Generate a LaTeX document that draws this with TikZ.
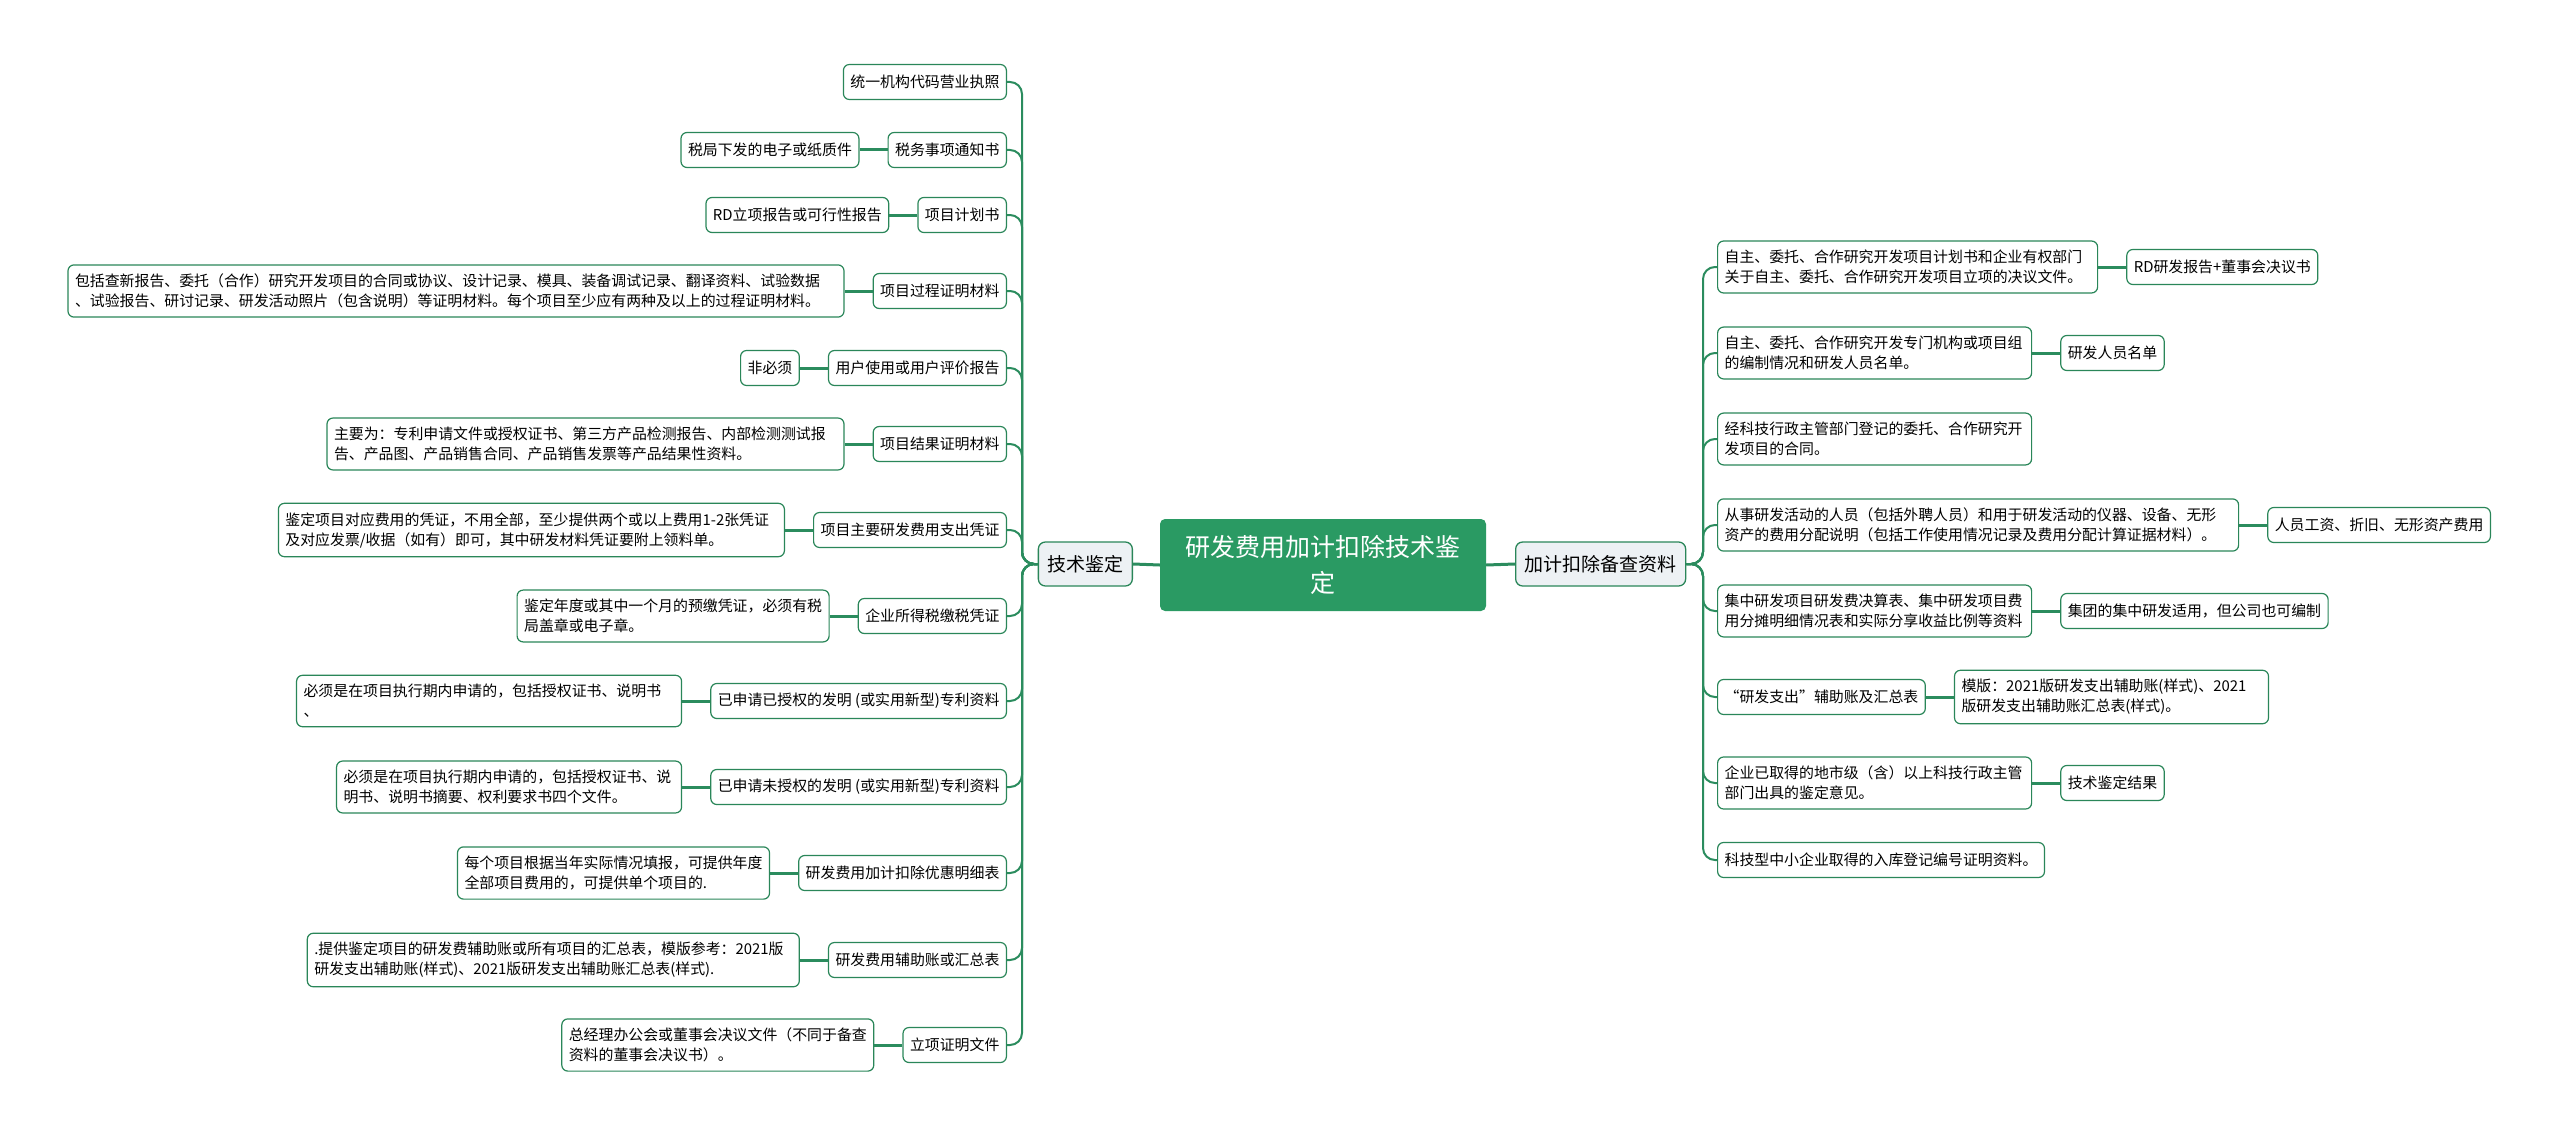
\documentclass[tikz,border=0pt]{standalone}
\usepackage{fontspec}
\setmainfont{Noto Sans CJK SC}
\usetikzlibrary{positioning}

\definecolor{edgegreen}{HTML}{2A8659}
\definecolor{linkgreen}{HTML}{2B8C5E}
\definecolor{rootgreen}{HTML}{2A9A63}
\definecolor{topicgrey}{HTML}{EDF1F4}

\begin{document}
\begin{tikzpicture}[
    x=1pt, y=-1pt,
    node distance=28pt,
    root/.style={
        rectangle,
        fill=rootgreen,
        rounded corners=5pt,
        text=white,
        minimum width=326pt,
        minimum height=92pt,
        inner sep=0pt,
        align=center,
        font=\fontsize{25}{36}\selectfont
    },
    topic/.style={
        rectangle,
        draw=edgegreen,
        fill=topicgrey,
        rounded corners=7pt,
        line width=1.3pt,
        minimum height=44pt,
        inner xsep=9pt,
        font=\fontsize{19}{23}\selectfont
    },
    leaf/.style={
        rectangle,
        draw=edgegreen,
        fill=white,
        rounded corners=6pt,
        line width=1.2pt,
        minimum height=35pt,
        inner xsep=7pt,
        inner ysep=9pt,
        align=left,
        font=\fontsize{14.9}{20}\selectfont
    },
    wrapped/.style={
        leaf,
        text width=#1
    },
    trunk/.style={
        draw=linkgreen,
        line width=3pt
    },
    branch/.style={
        draw=linkgreen,
        line width=2pt,
        rounded corners=12pt
    },
    twig/.style={
        draw=linkgreen,
        line width=3pt
    }
]
\useasboundingbox (0,0) rectangle (2560,1137);

% Centre and main topics
\node[root] (main) at (1323,565) {研发费用加计扣除技术鉴\\定};
\node[topic, anchor=east] (tech) at (1133,564) {技术鉴定};
\node[topic, anchor=west] (backup) at (1515,564) {加计扣除备查资料};
\coordinate (lbus) at (1022,564);
\coordinate (rbus) at (1703,564);

% Left side
\node[leaf, anchor=east] (l1) at (1007,82) {统一机构代码营业执照};
\node[leaf, anchor=east] (l2) at (1007,150) {税务事项通知书};
\node[leaf, anchor=east] (l3) at (1007,215) {项目计划书};
\node[leaf, anchor=east] (l4) at (1007,291) {项目过程证明材料};
\node[leaf, anchor=east] (l5) at (1007,368) {用户使用或用户评价报告};
\node[leaf, anchor=east] (l6) at (1007,444) {项目结果证明材料};
\node[leaf, anchor=east] (l7) at (1007,530) {项目主要研发费用支出凭证};
\node[leaf, anchor=east] (l8) at (1007,616) {企业所得税缴税凭证};
\node[leaf, anchor=east] (l9) at (1007,701) {已申请已授权的发明 (或实用新型)专利资料};
\node[leaf, anchor=east] (l10) at (1007,787) {已申请未授权的发明 (或实用新型)专利资料};
\node[leaf, anchor=east] (l11) at (1007,873) {研发费用加计扣除优惠明细表};
\node[leaf, anchor=east] (l12) at (1007,960) {研发费用辅助账或汇总表};
\node[leaf, anchor=east] (l13) at (1007,1045) {立项证明文件};

\node[leaf, left=of l2] (n2) {税局下发的电子或纸质件};
\node[leaf, left=of l3] (n3) {RD立项报告或可行性报告};
\node[wrapped=762pt, left=of l4] (n4) {包括查新报告、委托（合作）研究开发项目的合同或协议、设计记录、模具、装备调试记录、翻译资料、试验数据\\、试验报告、研讨记录、研发活动照片（包含说明）等证明材料。每个项目至少应有两种及以上的过程证明材料。};
\node[leaf, left=of l5] (n5) {非必须};
\node[wrapped=503pt, left=of l6] (n6) {主要为：专利申请文件或授权证书、第三方产品检测报告、内部检测测试报\\告、产品图、产品销售合同、产品销售发票等产品结果性资料。};
\node[wrapped=492pt, left=of l7] (n7) {鉴定项目对应费用的凭证，不用全部，至少提供两个或以上费用1-2张凭证\\及对应发票/收据（如有）即可，其中研发材料凭证要附上领料单。};
\node[leaf, left=of l8] (n8) {鉴定年度或其中一个月的预缴凭证，必须有税\\局盖章或电子章。};
\node[wrapped=371pt, left=of l9] (n9) {必须是在项目执行期内申请的，包括授权证书、说明书\\、};
\node[wrapped=331pt, left=of l10] (n10) {必须是在项目执行期内申请的，包括授权证书、说\\明书、说明书摘要、权利要求书四个文件。};
\node[leaf, left=of l11] (n11) {每个项目根据当年实际情况填报，可提供年度\\全部项目费用的，可提供单个项目的.};
\node[wrapped=478pt, left=of l12] (n12) {.提供鉴定项目的研发费辅助账或所有项目的汇总表，模版参考：2021版\\研发支出辅助账(样式)、2021版研发支出辅助账汇总表(样式).};
\node[leaf, left=of l13] (n13) {总经理办公会或董事会决议文件（不同于备查\\资料的董事会决议书）。};

% Right side
\node[wrapped=366pt, anchor=west] (r1) at (1717,267) {自主、委托、合作研究开发项目计划书和企业有权部门\\关于自主、委托、合作研究开发项目立项的决议文件。};
\node[wrapped=300pt, anchor=west] (r2) at (1717,353) {自主、委托、合作研究开发专门机构或项目组\\的编制情况和研发人员名单。};
\node[wrapped=300pt, anchor=west] (r3) at (1717,439) {经科技行政主管部门登记的委托、合作研究开\\发项目的合同。};
\node[wrapped=507pt, anchor=west] (r4) at (1717,525) {从事研发活动的人员（包括外聘人员）和用于研发活动的仪器、设备、无形\\资产的费用分配说明（包括工作使用情况记录及费用分配计算证据材料）。};
\node[wrapped=300pt, anchor=west] (r5) at (1717,611) {集中研发项目研发费决算表、集中研发项目费\\用分摊明细情况表和实际分享收益比例等资料};
\node[leaf, anchor=west] (r6) at (1717,697) {“研发支出”辅助账及汇总表};
\node[wrapped=300pt, anchor=west] (r7) at (1717,783) {企业已取得的地市级（含）以上科技行政主管\\部门出具的鉴定意见。};
\node[leaf, anchor=west] (r8) at (1717,860) {科技型中小企业取得的入库登记编号证明资料。};

\node[leaf, right=of r1] (s1) {RD研发报告+董事会决议书};
\node[leaf, right=of r2] (s2) {研发人员名单};
\node[leaf, right=of r4] (s4) {人员工资、折旧、无形资产费用};
\node[leaf, right=of r5] (s5) {集团的集中研发适用，但公司也可编制};
\node[wrapped=300pt, right=of r6] (s6) {模版：2021版研发支出辅助账(样式)、2021\\版研发支出辅助账汇总表(样式)。};
\node[leaf, right=of r7] (s7) {技术鉴定结果};

% Connectors
\draw[trunk] (main.west) -- (tech.east);
\draw[trunk] (main.east) -- (backup.west);
\foreach \i in {1,...,13}
    \draw[branch] (tech.west) -- (lbus) |- (l\i.east);
\foreach \i in {2,...,13}
    \draw[twig] (l\i.west) -- (n\i.east);
\foreach \i in {1,...,8}
    \draw[branch] (backup.east) -- (rbus) |- (r\i.west);
\foreach \i in {1,2,4,5,6,7}
    \draw[twig] (r\i.east) -- (s\i.west);

\end{tikzpicture}
\end{document}
